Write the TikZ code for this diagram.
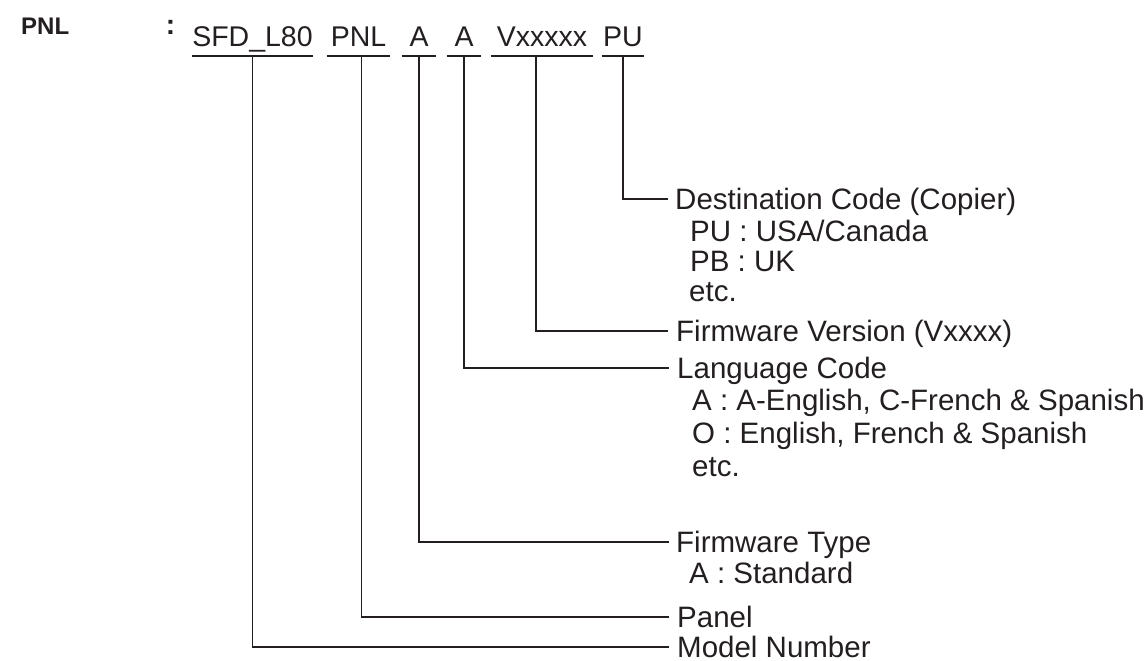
\documentclass[tikz,border=0pt]{standalone}
\usepackage{fontspec}
\setmainfont{Liberation Sans}
\definecolor{ink}{HTML}{231F20}
\begin{document}
\begin{tikzpicture}[x=1pt,y=-1pt,
  every node/.style={text=ink, inner sep=0pt, font=\fontsize{29.5}{31}\selectfont},
  code/.style={anchor=south, inner ysep=9pt, inner xsep=0pt, text height=21pt, text depth=0pt, align=center, font=\fontsize{28.5}{31}\selectfont},
  lab/.style={anchor=west, text height=20.5pt, text depth=0pt},
  sub/.style={anchor=base west},
  conn/.style={draw=ink, line width=1.3pt},
  uline/.style={draw=ink, line width=1.9pt}]
\useasboundingbox (0,0) rectangle (1146,661);
% heading
\node[font=\fontsize{24}{26}\bfseries\selectfont, anchor=base west] (title) at (21,35) {PNL};
\node[font=\fontsize{28}{30}\bfseries\selectfont, anchor=base] (colon) at (170.5,35) {:};
% code parts
\node[code, minimum width=117pt] (sfd) at (252.5,56) {SFD\_L80};
\node[code, minimum width=63pt] (pnl) at (358.5,56) {PNL};
\node[code, minimum width=34pt] (a1) at (419,56) {A};
\node[code, minimum width=34pt] (a2) at (464,56) {A};
\node[code, minimum width=102pt] (vx) at (542,56) {Vxxxxx};
\node[code, minimum width=42pt] (pu) at (623,56) {PU};
\foreach \n in {sfd,pnl,a1,a2,vx,pu}
  \draw[uline] (\n.south west) -- (\n.south east);
% labels
\node[lab] (dest) at (675,199) {Destination Code (Copier)};
\node[sub] (pu1) at (690,241) {PU : USA/Canada};
\node[sub] (pb1) at (690,271) {PB : UK};
\node[sub] (etc1) at (689,301) {etc.};
\node[lab] (fwv) at (676,331) {Firmware Version (Vxxxx)};
\node[lab] (lang) at (677,368) {Language Code};
\node[sub] (la) at (692,410) {A : A-English, C-French \& Spanish};
\node[sub] (lo) at (692,443) {O : English, French \& Spanish};
\node[sub] (etc2) at (692,476) {etc.};
\node[lab] (fwt) at (676,542) {Firmware Type};
\node[sub] (std) at (689,583) {A : Standard};
\node[lab] (panel) at (677,617) {Panel};
\node[lab] (model) at (677,647) {Model Number};
% connectors
\draw[conn] (pu.south) |- ([xshift=-7pt]dest.west);
\draw[conn] ([xshift=-6pt]vx.south) |- ([xshift=-8pt]fwv.west);
\draw[conn] (a2.south) |- ([xshift=-8pt]lang.west);
\draw[conn] (a1.south) |- ([xshift=-7pt]fwt.west);
\draw[conn] ([xshift=3pt]pnl.south) |- ([xshift=-8pt]panel.west);
\draw[conn] (sfd.south) |- ([xshift=-8pt]model.west);
\end{tikzpicture}
\end{document}
